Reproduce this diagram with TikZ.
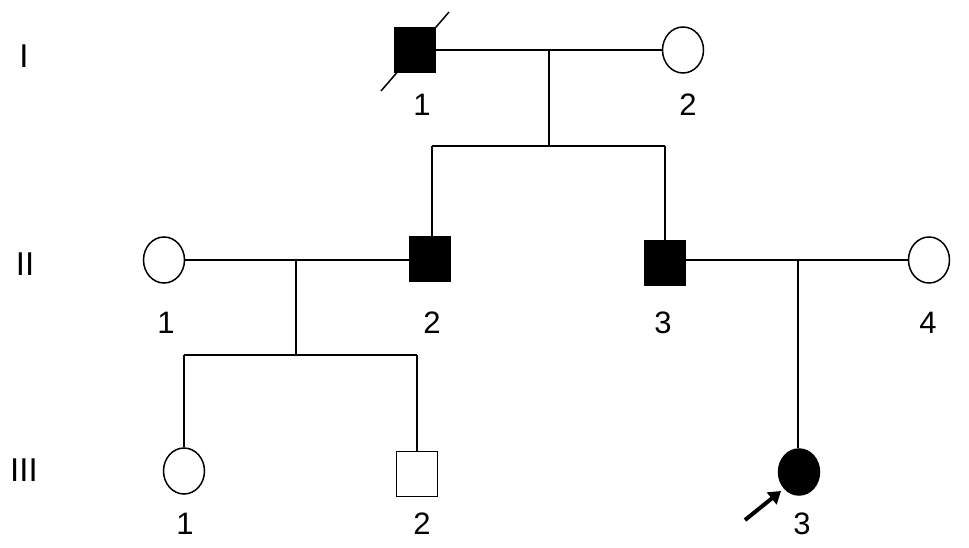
\documentclass[tikz,border=0pt]{standalone}
\usepackage{fontspec}
\setmainfont{Liberation Sans}
\usetikzlibrary{shapes.geometric,arrows.meta}
\begin{document}
\begin{tikzpicture}[x=1pt,y=-1pt,
  male/.style={draw,line width=1.5pt,rectangle,minimum width=41pt,minimum height=45pt,inner sep=0pt},
  female/.style={draw,line width=1.5pt,ellipse,minimum width=41pt,minimum height=46pt,inner sep=0pt},
  aff/.style={fill=black},
  unaff/.style={fill=white},
  lbl/.style={font=\fontsize{31}{31}\selectfont,inner sep=0pt},
  gen/.style={font=\fontsize{33}{33}\selectfont,inner sep=0pt},
  ln/.style={line width=1.5pt}]
\useasboundingbox (0,0) rectangle (969,548);
% generation labels
\node[gen] (gI) at (24,56) {I};
\node[gen] (gII) at (25,264) {II};
\node[gen] (gIII) at (24,470) {III};
% generation I
\node[male,aff] (I1) at (415,50) {};
\node[female,unaff] (I2) at (683,50) {};
\node[lbl] (lI1) at (422,105) {1};
\node[lbl] (lI2) at (688,105) {2};
\coordinate (dA) at (381,91);
\coordinate (dB) at (449,12);
\draw[ln] (dA) -- (dB);
\coordinate (mI) at (549,50);
\coordinate (sI) at (549,146);
\coordinate (sIL) at (432,146);
\coordinate (sIR) at (665,146);
% generation II
\node[female,unaff] (II1) at (164,260) {};
\node[male,aff] (II2) at (430,259) {};
\node[male,aff] (II3) at (665,263) {};
\node[female,unaff] (II4) at (929,260) {};
\node[lbl] (lII1) at (166,323) {1};
\node[lbl] (lII2) at (432,323) {2};
\node[lbl] (lII3) at (663,323) {3};
\node[lbl] (lII4) at (928,323) {4};
\coordinate (mII) at (296,260);
\coordinate (sII) at (296,355);
\coordinate (sIIL) at (184,355);
\coordinate (sIIR) at (417,355);
\coordinate (mIII) at (798,260);
% generation III
\node[female,unaff] (III1) at (184,471) {};
\node[male,unaff] (III2) at (417,474) {};
\node[female,aff] (III3) at (799,472) {};
\node[lbl] (lIII1) at (185,524) {1};
\node[lbl] (lIII2) at (422,524) {2};
\node[lbl] (lIII3) at (802,524) {3};
\coordinate (arS) at (745,520);
\coordinate (arE) at (781,491);
% connectors
\draw[ln] (I1) -- (I2);
\draw[ln] (mI) -- (sI);
\draw[ln] (sIL) -- (sIR);
\draw[ln] (sIL) -- (II2.north -| sIL);
\draw[ln] (sIR) -- (II3.north);
\draw[ln] (II1) -- (II2.west |- II1);
\draw[ln] (mII) -- (sII);
\draw[ln] (sIIL) -- (sIIR);
\draw[ln] (sIIL) -- (III1.north);
\draw[ln] (sIIR) -- (III2.north);
\draw[ln] (II3.east |- II4) -- (II4);
\draw[ln] (mIII) -- (III3.north -| mIII);
\draw[line width=4pt,-{Triangle[length=12pt,width=15pt]}] (arS) -- (arE);
\end{tikzpicture}
\end{document}
